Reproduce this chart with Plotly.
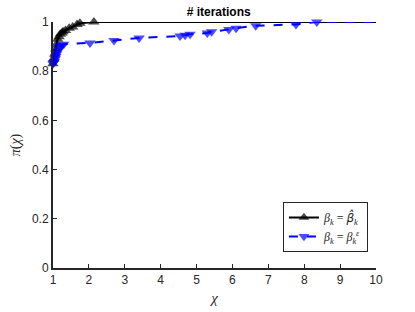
import plotly.graph_objects as go

# Data
black_x = [1.0, 1.02, 1.05, 1.08, 1.1, 1.13, 1.17, 1.2, 1.25, 1.28, 1.35, 1.45, 1.55, 1.67, 1.75, 2.14, 10.0]
black_y = [0.83, 0.85, 0.87, 0.89, 0.91, 0.93, 0.94, 0.95, 0.955, 0.96, 0.965, 0.975, 0.98, 0.99, 0.995, 1.0, 1.0]

blue_x = [1.0, 1.02, 1.04, 1.06, 1.08, 1.1, 1.13, 1.16, 1.2, 1.25, 1.3, 2.03, 2.7, 3.4, 4.54, 4.68, 4.82, 5.3, 5.42, 5.9, 6.1, 6.65, 7.77, 8.35, 10.0]
blue_y = [0.83, 0.835, 0.84, 0.85, 0.86, 0.87, 0.88, 0.89, 0.9, 0.905, 0.91, 0.915, 0.925, 0.935, 0.943, 0.946, 0.95, 0.955, 0.96, 0.97, 0.975, 0.985, 0.99, 1.0, 1.0]

x_ticks = [1, 2, 3, 4, 5, 6, 7, 8, 9, 10]
y_ticks = [0, 0.2, 0.4, 0.6, 0.8, 1]
y_tick_labels = ["0", "0.2", "0.4", "0.6", "0.8", "1"]

title_text = "<b># iterations</b>"
legend_names = ["<i>β<sub>k</sub></i> = <span style='font-family:DejaVu Sans'><i>β̂</i></span><sub><i>k</i></sub>",
                "<i>β<sub>k</sub></i> = <i>β<sub>k</sub><sup>ε</sup></i>"]

black_sizes = [10] * (len(black_x) - 1) + [0]
blue_sizes = [10] * (len(blue_x) - 1) + [0]

fig = go.Figure()
fig.add_trace(go.Scatter(
    x=black_x, y=black_y, name=legend_names[0], mode="lines+markers",
    line=dict(color="black", width=2),
    marker=dict(symbol="triangle-up", size=black_sizes, color="black",
                line=dict(width=0)),
    cliponaxis=False,
))
fig.add_trace(go.Scatter(
    x=blue_x, y=blue_y, name=legend_names[1], mode="lines+markers",
    line=dict(color="blue", width=2, dash="dash"),
    marker=dict(symbol="triangle-down", size=blue_sizes, color="blue",
                line=dict(width=0)),
    cliponaxis=False,
))

fig.update_layout(
    width=415, height=312,
    margin=dict(l=53, r=39, t=22, b=44),
    paper_bgcolor="white", plot_bgcolor="white",
    font=dict(family="Liberation Sans, Arial, sans-serif", size=12, color="#262626"),
    title=dict(text=title_text, x=(53 + 376) / 2 / 415 + 0.01, xanchor="center",
               y=1 - 12 / 312, yanchor="middle",
               font=dict(size=12, color="black")),
    showlegend=True,
    legend=dict(x=0.975, xanchor="right", y=0.065, yanchor="bottom",
                bordercolor="#262626", borderwidth=1, bgcolor="white",
                font=dict(family="Liberation Serif, serif", size=12, color="#262626"),
                tracegroupgap=0, itemwidth=30),
    xaxis=dict(range=[1, 10], tickvals=x_ticks, ticks="inside", ticklen=4,
               tickwidth=1, tickcolor="#262626", automargin=False,
               showline=True, linecolor="#262626", linewidth=2, showgrid=False,
               zeroline=False, mirror=False,
               title=dict(text="<i>χ</i>", standoff=6,
                          font=dict(family="Liberation Serif, serif", size=15, color="#262626"))),
    yaxis=dict(range=[0, 1], tickvals=y_ticks, ticktext=y_tick_labels, ticks="inside",
               ticklen=4, tickwidth=1, tickcolor="#262626", automargin=False,
               showline=True, linecolor="#262626", linewidth=2, showgrid=False,
               zeroline=False, mirror=False,
               title=dict(text="<i>π</i>(<i>χ</i>)", standoff=8,
                          font=dict(family="Liberation Serif, serif", size=14, color="#262626"))),
)

fig.write_html("out.html", config={"displayModeBar": False})
with open("out.html", "r", encoding="utf-8") as f:
    html = f.read()
html = html.replace("<head>", "<head><style>html,body{margin:0;padding:0;overflow:hidden;}</style>", 1)
with open("out.html", "w", encoding="utf-8") as f:
    f.write(html)
